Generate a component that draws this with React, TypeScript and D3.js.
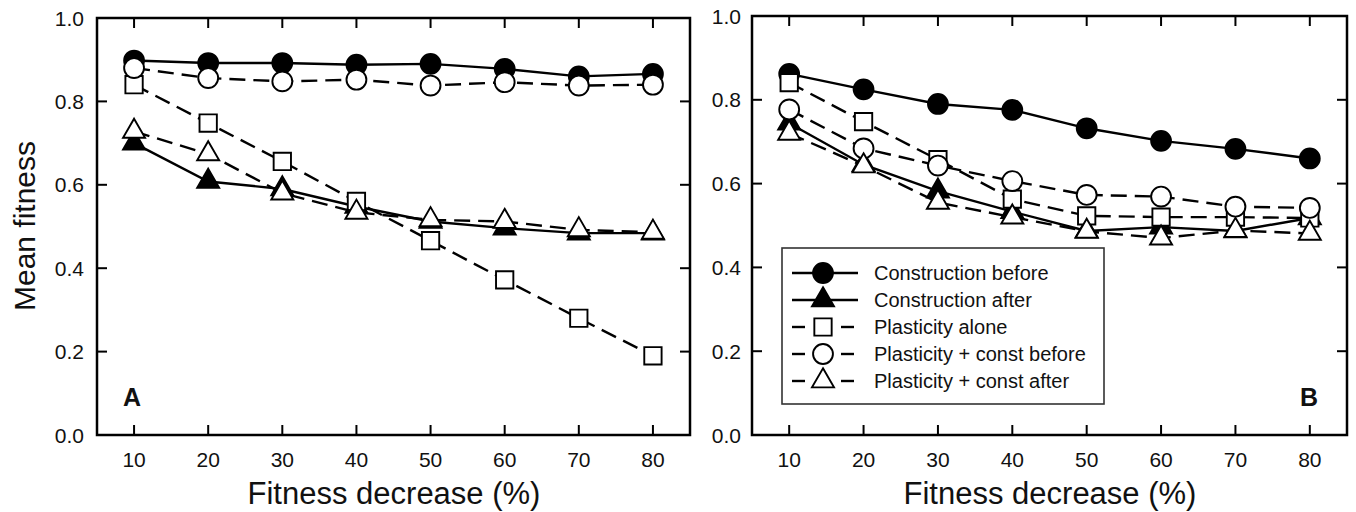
import React from "react";
import * as d3 from "d3";

const fitnessDecrease = [10, 20, 30, 40, 50, 60, 70, 80];
const xTickLabels = ["10", "20", "30", "40", "50", "60", "70", "80"];
const yTickValues = [0, 0.2, 0.4, 0.6, 0.8, 1.0];
const seriesNames = [
  "Construction before",
  "Construction after",
  "Plasticity alone",
  "Plasticity + const before",
  "Plasticity + const after",
];

// Panel A
const aConstructionBefore = [0.898, 0.892, 0.892, 0.888, 0.89, 0.878, 0.86, 0.866];
const aConstructionAfter = [0.7, 0.608, 0.59, 0.548, 0.512, 0.496, 0.484, 0.484];
const aPlasticityAlone = [0.84, 0.748, 0.656, 0.56, 0.466, 0.372, 0.28, 0.19];
const aPlastConstBefore = [0.88, 0.856, 0.848, 0.852, 0.838, 0.846, 0.838, 0.84];
const aPlastConstAfter = [0.728, 0.674, 0.58, 0.534, 0.516, 0.512, 0.492, 0.486];

// Panel B
const bConstructionBefore = [0.862, 0.825, 0.79, 0.776, 0.732, 0.702, 0.683, 0.66];
const bConstructionAfter = [0.744, 0.645, 0.582, 0.533, 0.487, 0.496, 0.487, 0.518];
const bPlasticityAlone = [0.841, 0.748, 0.657, 0.563, 0.523, 0.52, 0.52, 0.518];
const bPlastConstBefore = [0.777, 0.684, 0.643, 0.606, 0.573, 0.569, 0.545, 0.542];
const bPlastConstAfter = [0.72, 0.642, 0.555, 0.52, 0.486, 0.47, 0.488, 0.481];

type Style = { marker: "circle" | "triangle" | "square"; filled: boolean; dashed: boolean };
const styles: Style[] = [
  { marker: "circle", filled: true, dashed: false },
  { marker: "triangle", filled: true, dashed: false },
  { marker: "square", filled: false, dashed: true },
  { marker: "circle", filled: false, dashed: true },
  { marker: "triangle", filled: false, dashed: true },
];

const FONT = "'Liberation Sans', Arial, Helvetica, sans-serif";
const DASH = "16,8";

function symbolPath(kind: string) {
  if (kind === "circle") return d3.symbol(d3.symbolCircle, 310)()!;
  if (kind === "square") return d3.symbol(d3.symbolSquare, 300)()!;
  return d3.symbol(d3.symbolTriangle, 210)()!;
}

function Marker({ cx, cy, s }: { cx: number; cy: number; s: Style }) {
  return (
    <path
      d={symbolPath(s.marker)}
      transform={`translate(${cx},${cy})`}
      fill={s.filled ? "#000" : "#fff"}
      stroke="#000"
      strokeWidth={1.9}
    />
  );
}

type PanelProps = {
  left: number;
  right: number;
  top: number;
  bottom: number;
  series: number[][];
  label: string;
  labelX: number;
  yLabelGap: number;
  legend?: boolean;
};

function Panel({ left, right, top, bottom, series, label, labelX, yLabelGap, legend }: PanelProps) {
  const x = d3.scaleLinear().domain([5, 85]).range([left, right]);
  const y = d3.scaleLinear().domain([0, 1]).range([bottom, top]);
  const line = d3
    .line<number>()
    .x((_, i) => x(fitnessDecrease[i]))
    .y((d) => y(d));
  const tickLen = 10;
  const innerY = yTickValues.filter((v) => v > 0 && v < 1);
  return (
    <g>
      <rect x={left} y={top} width={right - left} height={bottom - top} fill="none" stroke="#000" strokeWidth={2.5} />
      {fitnessDecrease.map((v, i) => (
        <g key={"xt" + i}>
          <line x1={x(v)} x2={x(v)} y1={bottom} y2={bottom - tickLen} stroke="#000" strokeWidth={2} />
          <line x1={x(v)} x2={x(v)} y1={top} y2={top + tickLen} stroke="#000" strokeWidth={2} />
          <text x={x(v)} y={bottom + 32} fontSize={21} textAnchor="middle" fontFamily={FONT} fill="#111">
            {xTickLabels[i]}
          </text>
        </g>
      ))}
      {innerY.map((v, i) => (
        <g key={"yt" + i}>
          <line x1={left} x2={left + tickLen} y1={y(v)} y2={y(v)} stroke="#000" strokeWidth={2} />
          <line x1={right} x2={right - tickLen} y1={y(v)} y2={y(v)} stroke="#000" strokeWidth={2} />
        </g>
      ))}
      {yTickValues.map((v, i) => (
        <text
          key={"yl" + i}
          x={left - yLabelGap}
          y={y(v)}
          dy="0.36em"
          fontSize={21}
          textAnchor="end"
          fontFamily={FONT}
          fill="#111"
        >
          {d3.format(".1f")(v)}
        </text>
      ))}
      {series.map((vals, si) => (
        <g key={"s" + si}>
          <path
            d={line(vals)!}
            fill="none"
            stroke="#000"
            strokeWidth={2.4}
            strokeDasharray={styles[si].dashed ? DASH : undefined}
          />
          {vals.map((v, i) => (
            <Marker key={i} cx={x(fitnessDecrease[i])} cy={y(v)} s={styles[si]} />
          ))}
        </g>
      ))}
      <text x={labelX} y={bottom - 29} fontSize={25} fontWeight="bold" fontFamily={FONT} fill="#111">
        {label}
      </text>
      {legend && <Legend />}
    </g>
  );
}

function Legend() {
  const bx = 782;
  const by = 248;
  const bw = 322;
  const bh = 156;
  const rowY = (i: number) => by + 25 + i * 27;
  return (
    <g>
      <rect x={bx} y={by} width={bw} height={bh} fill="#fff" stroke="#333" strokeWidth={1.6} />
      {seriesNames.map((name, i) => {
        const s = styles[i];
        const cy = rowY(i);
        const mx = bx + 41;
        return (
          <g key={name}>
            {s.dashed ? (
              <>
                <line x1={bx + 10} x2={bx + 23} y1={cy} y2={cy} stroke="#000" strokeWidth={2.4} />
                <line x1={bx + 59} x2={bx + 72} y1={cy} y2={cy} stroke="#000" strokeWidth={2.4} />
              </>
            ) : (
              <line x1={bx + 10} x2={bx + 76} y1={cy} y2={cy} stroke="#000" strokeWidth={2.4} />
            )}
            <Marker cx={mx} cy={cy} s={s} />
            <text x={bx + 92} y={cy} dy="0.36em" fontSize={20} fontFamily={FONT} fill="#111">
              {name}
            </text>
          </g>
        );
      })}
    </g>
  );
}

export default function App() {
  const seriesA = [aConstructionBefore, aConstructionAfter, aPlasticityAlone, aPlastConstBefore, aPlastConstAfter];
  const seriesB = [bConstructionBefore, bConstructionAfter, bPlasticityAlone, bPlastConstBefore, bPlastConstAfter];
  return (
    <svg
      width={1356}
      height={512}
      style={{ position: "absolute", left: 0, top: 0, background: "#fff" }}
    >
      <rect x={0} y={0} width={1356} height={512} fill="#fff" />
      <Panel left={97} right={690} top={18} bottom={435} series={seriesA} label="A" labelX={123} yLabelGap={13} />
      <Panel
        left={752}
        right={1347}
        top={16}
        bottom={435}
        series={seriesB}
        label="B"
        labelX={1300}
        yLabelGap={11}
        legend
      />
      <text
        transform="translate(35,226) rotate(-90)"
        fontSize={30}
        textAnchor="middle"
        fontFamily={FONT}
        fill="#111"
      >
        Mean fitness
      </text>
      <text x={394} y={504} fontSize={31} textAnchor="middle" fontFamily={FONT} fill="#111">
        Fitness decrease (%)
      </text>
      <text x={1050} y={504} fontSize={31} textAnchor="middle" fontFamily={FONT} fill="#111">
        Fitness decrease (%)
      </text>
    </svg>
  );
}
